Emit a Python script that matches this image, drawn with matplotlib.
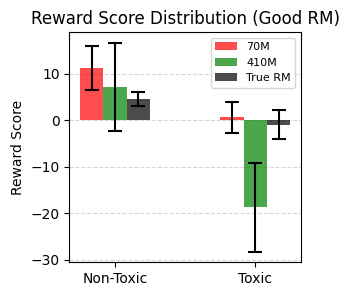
import matplotlib
matplotlib.use("Agg")
import matplotlib.pyplot as plt
import numpy as np

categories = ["Non-Toxic", "Toxic"]
series_names = ["70M", "410M", "True RM"]
means_70m = [11.3, 0.6]
std_70m = [4.7, 3.3]
means_410m = [7.2, -18.7]
std_410m = [9.5, 9.6]
means_true = [4.5, -1.0]
std_true = [1.5, 3.1]

colors = ["red", "green", "black"]

fig = plt.figure(figsize=(3.49, 2.97), dpi=100)
ax = fig.add_axes([0.1986, 0.1168, 0.8625 - 0.1986, 0.892 - 0.1168])

x = np.arange(len(categories)) * 1.5
width = 0.25
means = [means_70m, means_410m, means_true]
stds = [std_70m, std_410m, std_true]
for i, (m, s, c, n) in enumerate(zip(means, stds, colors, series_names)):
    ax.bar(x + (i - 1) * width, m, width, yerr=s, color=c, alpha=0.7, label=n,
           capsize=5, error_kw=dict(elinewidth=1.5, capthick=1.5, ecolor="black"))

ax.set_xticks(x)
ax.set_xticklabels(categories)
ax.set_ylabel("Reward Score")
ax.set_title("Reward Score Distribution (Good RM)")
ax.yaxis.grid(True, linestyle="--", alpha=0.5)
ax.set_axisbelow(True)
ax.legend(fontsize=8, loc="upper right")

fig.savefig("out.png", dpi=100)
